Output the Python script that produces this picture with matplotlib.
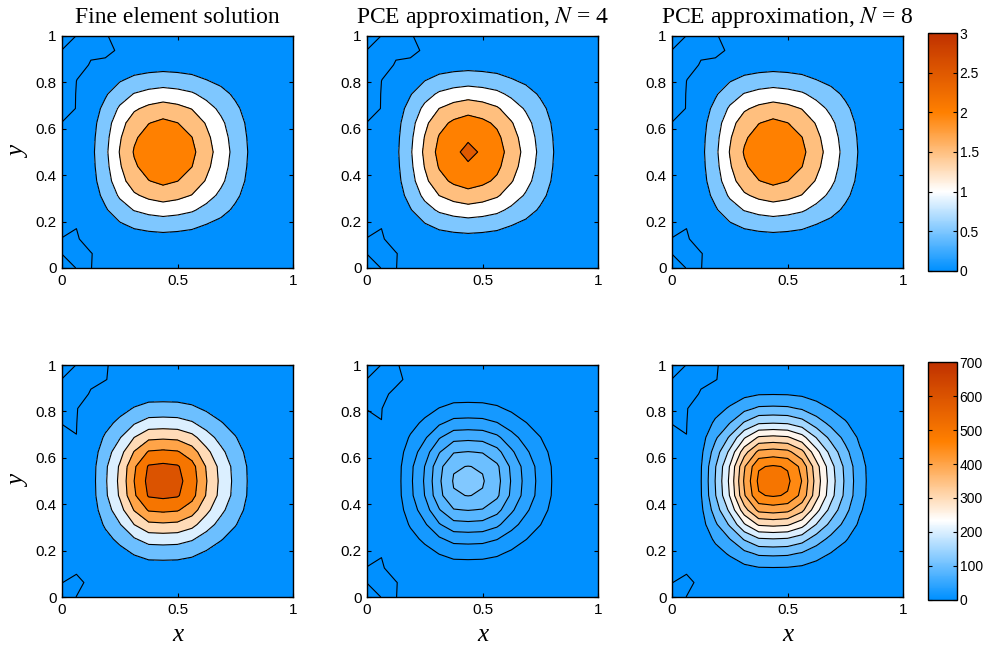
import numpy as np
import matplotlib
matplotlib.use('Agg')
import matplotlib.pyplot as plt
from matplotlib.colors import LinearSegmentedColormap, Normalize
from matplotlib.cm import ScalarMappable

plt.rcParams['font.family'] = 'Liberation Sans'
plt.rcParams['mathtext.fontset'] = 'stix'

# grid nodes (17 x 17 on the unit square)
grid = np.linspace(0, 1, 17)

# 1D profiles (relative to the peak), x and y directions
fx_top = [0, 0.03, 0.15, 0.36, 0.62, 0.83, 0.94, 1.0, 0.95, 0.86, 0.69, 0.52, 0.34, 0.18, 0.07, 0.02, 0]
gy_top = [0, 0.04, 0.13, 0.29, 0.50, 0.70, 0.86, 0.95, 1.0, 0.95, 0.86, 0.70, 0.50, 0.29, 0.13, 0.04, 0]
fx_bot = [0, 0.02, 0.09, 0.29, 0.50, 0.78, 0.98, 1.0, 0.98, 0.86, 0.63, 0.43, 0.27, 0.13, 0.05, 0.015, 0]
gy_bot = [0, 0.03, 0.09, 0.21, 0.38, 0.60, 0.81, 0.97, 1.0, 0.97, 0.81, 0.60, 0.38, 0.21, 0.09, 0.03, 0]

titles = ['Fine element solution', 'PCE approximation, $N$ = 4', 'PCE approximation, $N$ = 8']
peaks_top = [2.45, 2.58, 2.45]
peaks_bot = [640, 124, 520]
steps_top = [0.5, 0.5, 0.5]
steps_bot = [100, 20, 50]
cbar_ticks_top = [0, 0.5, 1, 1.5, 2, 2.5, 3]
cbar_ticks_bot = [0, 100, 200, 300, 400, 500, 600, 700]

nan = np.nan
# small noisy values near the left corners (rows: y = 1, 15/16, ... ; cols: x = 0, 1/16, ...)
corner_tl_A = [[0.01, -0.0004, -0.01, -0.0005, nan],
               [-0.0005, -0.02, -0.02, -0.05, nan],
               [-0.3, -0.05, 0.01, nan, nan],
               [-0.3, -0.002, nan, nan, nan],
               [-0.3, nan, nan, nan, nan],
               [-0.3, nan, nan, nan, nan],
               [0.02, nan, nan, nan, nan]]
corner_tl_B = [[0.01, -0.0004, -0.01, -0.0005, nan],
               [-0.0005, -0.02, -0.02, -0.002, nan],
               [-0.3, -0.05, 0.01, nan, nan],
               [-0.3, -0.002, nan, nan, nan],
               [-0.005, -0.001, nan, nan, nan],
               [0.05, 0.0003, nan, nan, nan],
               [nan, nan, nan, nan, nan]]
corner_tl_C = [[0.01, -0.0004, -0.0005, nan, nan],
               [-0.0005, -0.02, -0.01, nan, nan],
               [-0.3, -0.01, nan, nan, nan],
               [-0.005, -0.001, nan, nan, nan],
               [0.05, 0.0003, nan, nan, nan],
               [nan, nan, nan, nan, nan],
               [nan, nan, nan, nan, nan]]
# rows: y = 3/16, 2/16, 1/16, 0 ; cols: x = 0 .. 3/16
corner_bl_A = [[0.05, 0.002, nan, nan],
               [-0.005, -0.005, 0.02, nan],
               [-0.001, -0.03, -0.002, 0.02],
               [0.02, -0.001, -0.001, 0.02]]
corner_bl_B = [[nan, nan, nan, nan],
               [nan, nan, nan, nan],
               [0.0003, -0.005, nan, nan],
               [-0.01, 0.0003, nan, nan]]

cmap = LinearSegmentedColormap.from_list(
    'bwo', [(0, '#0090ff'), (1/3, '#ffffff'), (2/3, '#ff8000'), (1, '#c03200')])


def build_field(fx, gy, peak, tl, bl):
    z = np.outer(gy, fx) + 0.002
    tl = np.array(tl)
    bl = np.array(bl)
    for r in range(tl.shape[0]):
        for c in range(tl.shape[1]):
            if not np.isnan(tl[r, c]):
                z[16 - r, c] = tl[r, c]
    for r in range(bl.shape[0]):
        for c in range(bl.shape[1]):
            if not np.isnan(bl[r, c]):
                z[3 - r, c] = bl[r, c]
    return peak * z


fields_top = [build_field(fx_top, gy_top, p, corner_tl_A, corner_bl_A) for p in peaks_top]
fields_bot = [build_field(fx_bot, gy_bot, peaks_bot[0], corner_tl_B, corner_bl_B),
              build_field(fx_bot, gy_bot, peaks_bot[1], corner_tl_C, corner_bl_A),
              build_field(fx_bot, gy_bot, peaks_bot[2], corner_tl_B, corner_bl_B)]

fig = plt.figure(figsize=(9.84, 6.45), dpi=100)

col_x = [0.063, 0.373, 0.683]
row_y = [0.5845, 0.0744]
w, h = 0.2348, 0.3597

rows = [(fields_top, steps_top, Normalize(0, 3), cbar_ticks_top),
        (fields_bot, steps_bot, Normalize(0, 700), cbar_ticks_bot)]

for r, (fields, steps, norm, cticks) in enumerate(rows):
    for c in range(3):
        ax = fig.add_axes([col_x[c], row_y[r], w, h])
        Z = fields[c]
        lev = np.arange(0, Z.max(), steps[c])
        fill_levels = np.r_[Z.min() - 1, lev, Z.max() + 1]
        fill_colors = [cmap(norm(0))] + [cmap(norm(v)) for v in lev]
        ax.contourf(grid, grid, Z, levels=fill_levels, colors=fill_colors)
        ax.contour(grid, grid, Z, levels=lev, colors='k', linewidths=0.8)
        ax.set_xlim(0, 1)
        ax.set_ylim(0, 1)
        ax.set_xticks([0, 0.5, 1])
        ax.set_xticklabels(['0', '0.5', '1'])
        ax.set_yticks([0, 0.2, 0.4, 0.6, 0.8, 1])
        ax.set_yticklabels(['0', '0.2', '0.4', '0.6', '0.8', '1'])
        ax.tick_params(direction='in', top=True, right=True, labelsize=11, length=3, pad=4)
        for s in ax.spines.values():
            s.set_linewidth(1.0)
        if r == 0:
            ax.set_title(titles[c], fontfamily='Liberation Serif', fontsize=17, pad=9)
        else:
            ax.set_xlabel('x', fontfamily='Liberation Serif', style='italic', fontsize=18, labelpad=5)
        if c == 0:
            ax.set_ylabel('y', fontfamily='Liberation Serif', style='italic', fontsize=18, labelpad=4)

    cax = fig.add_axes([0.943, row_y[r] - 0.004, 0.0295, h + 0.008])
    sm = ScalarMappable(norm=norm, cmap=cmap)
    cb = fig.colorbar(sm, cax=cax, ticks=cticks)
    cb.set_ticklabels(['%g' % t for t in cticks])
    cb.ax.tick_params(direction='in', left=True, right=True, labelsize=10, length=3, pad=2)
    cb.outline.set_linewidth(1.0)

fig.savefig('out.png', dpi=100)
